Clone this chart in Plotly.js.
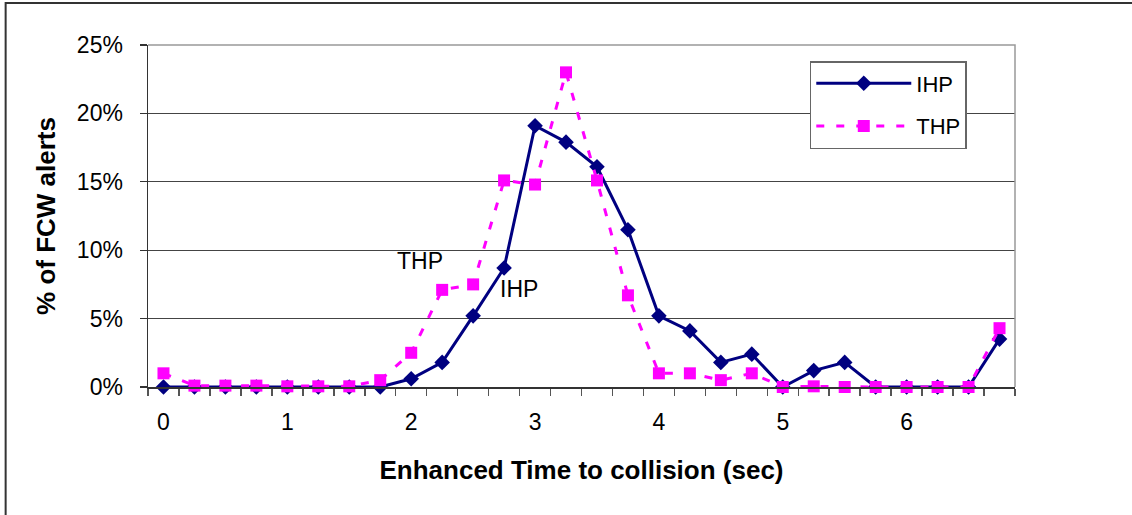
<!DOCTYPE html>
<html>
<head>
<meta charset="utf-8">
<script src="https://cdn.plot.ly/plotly-3.0.1.min.js"></script>
<style>
html,body{margin:0;padding:0;background:#fff;}
#chart{width:1132px;height:515px;}
</style>
</head>
<body>
<div id="chart"></div>
<script>
// Enhanced time to collision (sec), category positions
var ettc = [0, 0.25, 0.5, 0.75, 1, 1.25, 1.5, 1.75, 2, 2.25, 2.5, 2.75, 3, 3.25, 3.5, 3.75,
            4, 4.25, 4.5, 4.75, 5, 5.25, 5.5, 5.75, 6, 6.25, 6.5, 6.75];
// % of FCW alerts
var ihp = [0, 0, 0, 0, 0, 0, 0, 0, 0.6, 1.8, 5.2, 8.7, 19.1, 17.9, 16.1, 11.5,
           5.2, 4.1, 1.8, 2.4, 0, 1.2, 1.8, 0, 0, 0, 0, 3.5];
var thp = [1.0, 0.1, 0.1, 0.1, 0.05, 0.05, 0.05, 0.5, 2.5, 7.1, 7.5, 15.1, 14.8, 23.0, 15.1, 6.7,
           1.0, 1.0, 0.5, 1.0, 0, 0.05, 0, 0, 0, 0, 0, 4.3];
var seriesNames = ["IHP", "THP"];
var xTickVals = [0, 1, 2, 3, 4, 5, 6];
var yTickVals = [0, 5, 10, 15, 20, 25];
var yTickText = ["0%", "5%", "10%", "15%", "20%", "25%"];

var FONT = "Liberation Sans, Arial, sans-serif";

var traces = [
  {
    x: ettc, y: ihp, name: seriesNames[0], type: "scatter", mode: "lines+markers",
    legendgroup: "a", cliponaxis: false,
    line: {color: "#000080", width: 3},
    marker: {symbol: "diamond", size: 12, color: "#000080"}
  },
  {
    x: ettc, y: thp, name: seriesNames[1], type: "scatter", mode: "lines+markers",
    legendgroup: "b", cliponaxis: false,
    line: {color: "#FF00FF", width: 3, dash: "8px,12px"},
    marker: {symbol: "square", size: 12, color: "#FF00FF"}
  }
];

var layout = {
  width: 1132, height: 515,
  margin: {l: 147.5, r: 116.5, t: 45, b: 128.3, pad: 0},
  paper_bgcolor: "#fff", plot_bgcolor: "#fff",
  font: {family: FONT, size: 23, color: "#000"},
  showlegend: true,
  legend: {
    x: 0.7633, y: 0.9532, xanchor: "left", yanchor: "top",
    bgcolor: "#fff", bordercolor: "#666", borderwidth: 1.5,
    font: {family: FONT, size: 22, color: "#000"},
    itemwidth: 95, tracegroupgap: 11, traceorder: "grouped"
  },
  xaxis: {
    range: [-0.125, 6.875],
    tickmode: "array", tickvals: xTickVals, ticktext: xTickVals.map(String),
    ticks: "", showgrid: false, zeroline: false,
    showline: true, linecolor: "#333", linewidth: 1.5,
    ticklabelstandoff: 14,
    tickfont: {family: FONT, size: 23, color: "#000"},
    minor: {tick0: -0.125, dtick: 0.25, ticks: "outside", ticklen: 7, tickcolor: "#555", tickwidth: 1.5, showgrid: false},
    title: {text: "<b>Enhanced Time to collision (sec)</b>", font: {family: FONT, size: 26, color: "#000"}, standoff: 26}
  },
  yaxis: {
    range: [0, 25],
    tickmode: "array", tickvals: yTickVals, ticktext: yTickText,
    ticks: "outside", ticklen: 7, tickcolor: "#333", tickwidth: 1.2,
    showgrid: true, gridcolor: "#444", gridwidth: 1.2,
    zeroline: false, showline: true, linecolor: "#333", linewidth: 1.5,
    ticklabelstandoff: 12,
    tickfont: {family: FONT, size: 23, color: "#000"},
    title: {text: "<b>% of FCW alerts</b>", font: {family: FONT, size: 26, color: "#000"}, standoff: 14}
  },
  annotations: [
    {x: 2.07, y: 9.23, xref: "x", yref: "y", text: "THP", showarrow: false,
     font: {family: FONT, size: 23, color: "#000"}},
    {x: 2.87, y: 7.18, xref: "x", yref: "y", text: "IHP", showarrow: false,
     font: {family: FONT, size: 23, color: "#000"}}
  ],
  shapes: [
    {type: "path", xref: "paper", yref: "paper", path: "M0,1 L1,1 L1,0",
     line: {color: "#999", width: 1.5}, layer: "above"},
    {type: "path", xref: "paper", yref: "paper", path: "M-0.1642,-0.5 L-0.1642,1.1229 L1.2,1.1229",
     line: {color: "#333", width: 2}, layer: "above"}
  ]
};

Plotly.newPlot("chart", traces, layout, {displayModeBar: false, staticPlot: true});
</script>
</body>
</html>
